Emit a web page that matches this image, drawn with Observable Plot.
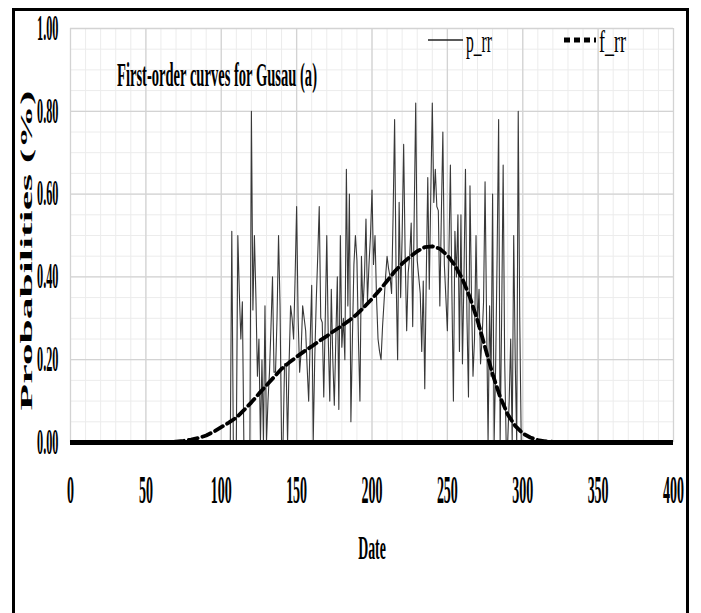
<!DOCTYPE html>
<html><head><meta charset="utf-8">
<script src="https://cdn.jsdelivr.net/npm/d3@7"></script>
<script src="https://cdn.jsdelivr.net/npm/@observablehq/plot@0.6"></script>
<style>
html,body{margin:0;padding:0;background:#fff;overflow:hidden;width:701px;height:613px}
#wrap{position:relative;width:701px;height:613px;overflow:hidden}
#chart svg{position:absolute;left:0;top:0;background:transparent}
#overlay{position:absolute;left:0;top:0;pointer-events:none}
#frame{position:absolute;left:12px;top:8px;width:677px;height:650px;border:3px solid #000;box-sizing:border-box;pointer-events:none}
</style></head>
<body>
<div id="wrap"><div id="chart"></div>
<svg id="overlay" width="701" height="613" font-family="'Liberation Serif', serif"></svg>
<div id="frame"></div></div>
<script>
// ---- data ----
const titleText = "First-order curves for Gusau (a)";
const xLabel = "Date";
const yLabel = "Probabilities (%)";
const seriesNames = ["p_rr", "f_rr"];
const xTicks = [0, 50, 100, 150, 200, 250, 300, 350, 400];
const yTicks = [0, 0.2, 0.4, 0.6, 0.8, 1.0];
const xMinor = d3.range(0, 401, 10);
const yMinor = d3.range(0, 1.0001, 0.05);

const pStartDay = 104;
const pValues = [
  0, 0, 0, 0.51, 0, 0, 0, 0.50, 0.36, 0.25,
  0.34, 0, 0, 0, 0, 0, 0.80, 0.32, 0.50, 0.35,
  0.16, 0.25, 0, 0.20, 0, 0.33, 0, 0.10, 0.17, 0.28,
  0.40, 0.17, 0.17, 0.30, 0.50, 0.33, 0, 0, 0.19, 0.19,
  0, 0.19, 0.33, 0.30, 0.25, 0.40, 0.57, 0.30, 0.17, 0.22,
  0.33, 0.30, 0.27, 0.18, 0.10, 0.25, 0.38, 0, 0.20, 0.34,
  0.45, 0.57, 0.30, 0.29, 0.11, 0.30, 0.50, 0.25, 0.10, 0.37,
  0.20, 0.09, 0.25, 0.40, 0.08, 0.50, 0.23, 0.30, 0.20, 0.66,
  0.33, 0.60, 0.05, 0.25, 0.43, 0.50, 0.44, 0.25, 0.10, 0.45,
  0.32, 0.40, 0.54, 0.34, 0.43, 0.50, 0.61, 0.43, 0.50, 0.35,
  0.25, 0.22, 0.20, 0.28, 0.34, 0.40, 0.45, 0.42, 0.40, 0.36,
  0.55, 0.78, 0.40, 0.20, 0.58, 0.35, 0.50, 0.72, 0.45, 0.27,
  0.41, 0.45, 0.53, 0.28, 0.55, 0.82, 0.44, 0.40, 0.36, 0.22,
  0.39, 0.13, 0.40, 0.64, 0.37, 0.60, 0.82, 0.58, 0.66, 0.57,
  0.56, 0.33, 0.55, 0.75, 0.43, 0.35, 0.27, 0.45, 0.67, 0.36,
  0.10, 0.51, 0.40, 0.55, 0.22, 0.55, 0.19, 0.40, 0.66, 0.30,
  0.11, 0.62, 0.35, 0.16, 0.25, 0.50, 0.28, 0.37, 0.19, 0.25,
  0.34, 0.63, 0.30, 0, 0.33, 0.16, 0.60, 0, 0.18, 0.45,
  0.78, 0, 0.30, 0.67, 0.20, 0, 0, 0.10, 0.25, 0,
  0.50, 0.20, 0, 0.80, 0.30, 0, 0
];
const pDays = pValues.map((_, i) => pStartDay + i);

const fDays = [60,65,70,75,80,85,90,95,100,105,110,115,120,125,130,135,140,145,150,155,160,165,170,175,180,185,190,195,200,205,210,215,220,225,230,235,240,245,250,255,260,265,270,275,280,285,290,295,300,305,310,315,320,325,330];
const fValues = [0.000,0.001,0.002,0.004,0.007,0.011,0.017,0.026,0.037,0.048,0.060,0.078,0.097,0.118,0.138,0.158,0.178,0.193,0.207,0.220,0.232,0.245,0.257,0.270,0.282,0.295,0.310,0.328,0.347,0.368,0.390,0.413,0.432,0.448,0.462,0.472,0.474,0.468,0.452,0.428,0.395,0.350,0.295,0.230,0.165,0.110,0.068,0.040,0.022,0.012,0.006,0.003,0.0015,0.0007,0.0003];

const pData = pDays.map((d, i) => ({day: d, v: pValues[i]}));
const fData = fDays.map((d, i) => ({day: d, v: fValues[i]}));

// ---- chart ----
const chart = Plot.plot({
  width: 701, height: 613,
  marginLeft: 70, marginRight: 28, marginTop: 28, marginBottom: 171,
  x: {domain: [0, 400]},
  y: {domain: [0, 1]},
  style: {fontFamily: "'Liberation Serif', serif", background: "transparent", color: "#000"},
  marks: [
    Plot.gridX(xMinor, {stroke: "#ececec", strokeOpacity: 1, strokeWidth: 1}),
    Plot.gridY(yMinor, {stroke: "#ececec", strokeOpacity: 1, strokeWidth: 1}),
    Plot.gridX(xTicks, {stroke: "#d3d3d3", strokeOpacity: 1, strokeWidth: 1.3}),
    Plot.gridY(yTicks, {stroke: "#d3d3d3", strokeOpacity: 1, strokeWidth: 1.3}),
    Plot.axisX(xTicks, {tickSize: 0, tickPadding: 32, fontSize: 40, fontWeight: "bold", tickFormat: d => String(d), label: null}),
    Plot.axisY(yTicks, {tickSize: 0, tickPadding: 12, fontSize: 35, fontWeight: "bold", tickFormat: d => d.toFixed(2), label: null}),
    Plot.line(pData, {x: "day", y: "v", stroke: "#383838", strokeWidth: 1.1}),
    Plot.line(fData, {x: "day", y: "v", stroke: "#000", strokeWidth: 3.8, strokeDasharray: "9,5"}),
    Plot.ruleY([0], {stroke: "#000", strokeWidth: 5}),
    Plot.text([yLabel], {frameAnchor: "left", textAnchor: "middle", rotate: -90, dx: -44, dy: 15, fontSize: 30, fontWeight: "bold", fill: "#000"}),
    Plot.text([xLabel], {frameAnchor: "bottom", textAnchor: "middle", dy: 116, fontSize: 33, fontWeight: "bold", fill: "#000"})
  ]
});
document.getElementById("chart").appendChild(chart);

// ---- legend + title overlay ----
const ns = "http://www.w3.org/2000/svg";
const ov = document.getElementById("overlay");
function el(tag, attrs, text) {
  const e = document.createElementNS(ns, tag);
  for (const k in attrs) e.setAttribute(k, attrs[k]);
  if (text != null) e.textContent = text;
  ov.appendChild(e);
  return e;
}
function fit(t, w) {
  t.setAttribute("textLength", w);
  t.setAttribute("lengthAdjust", "spacingAndGlyphs");
}
fit(el("text", {x: 117, y: 86, "font-size": 34, "font-weight": "bold", fill: "#000"}, titleText), 200);
el("line", {x1: 428, x2: 463, y1: 40, y2: 40, stroke: "#222", "stroke-width": 1.6});
fit(el("text", {x: 466, y: 52, "font-size": 32, fill: "#000"}, seriesNames[0]), 26);
el("line", {x1: 564, x2: 596, y1: 40, y2: 40, stroke: "#000", "stroke-width": 5, "stroke-dasharray": "6,4"});
fit(el("text", {x: 599, y: 52, "font-size": 32, fill: "#000"}, seriesNames[1]), 27);

// ---- squeeze Plot texts with a scale transform about their anchor ----
const svg = chart.tagName.toLowerCase() === "svg" ? chart : chart.querySelector("svg");
const plainNum = /^-?[\d.]+$/;
function squeeze(t, sx, sy) {
  const x = t.getAttribute("x"), y = t.getAttribute("y");
  if (x && plainNum.test(x)) t.setAttribute("x", parseFloat(x) / sx);
  if (y && plainNum.test(y)) t.setAttribute("y", parseFloat(y) / sy);
  t.setAttribute("transform", (t.getAttribute("transform") || "") + ` scale(${sx},${sy})`);
}
svg.querySelectorAll('g[aria-label="x-axis tick label"] text, g[aria-label="y-axis tick label"] text').forEach(t => squeeze(t, 0.35, 1));
svg.querySelectorAll('g[aria-label="text"] text').forEach(t => {
  const s = t.textContent;
  if (s === yLabel) {
    const w = t.getComputedTextLength();
    squeeze(t, 320 / w, 0.55);
  } else if (s === xLabel) {
    squeeze(t, 0.42, 1);
  }
});
</script>
</body></html>
